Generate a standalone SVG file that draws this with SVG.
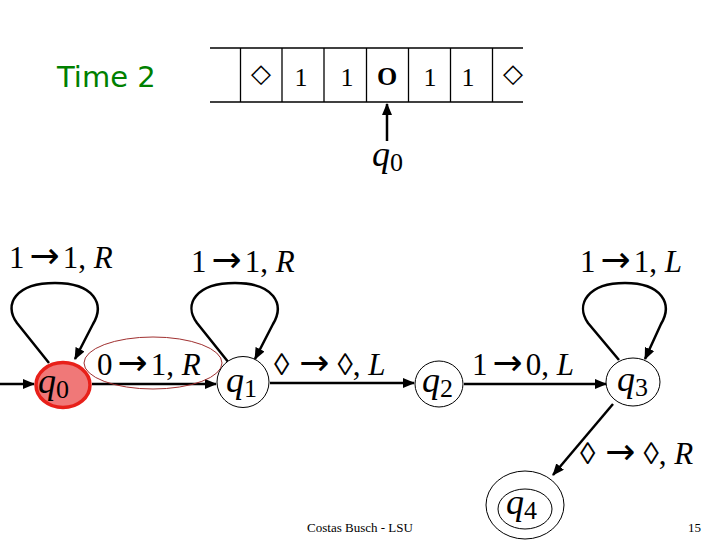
<svg xmlns="http://www.w3.org/2000/svg" width="720" height="540" viewBox="0 0 720 540">
<style>
.t{font-family:"Liberation Serif","DejaVu Serif",serif;fill:#000}
.lbl{font-size:31px}
.i{font-style:italic}
.ar{font-family:"DejaVu Sans",sans-serif;font-size:36px}
.e{fill:none;stroke:#000;stroke-width:2.5}
.st{fill:#fff;stroke:#000;stroke-width:1}
.tape{stroke:#000;stroke-width:1.3;fill:none}
.cell{font-size:26px;text-anchor:middle}
.q{font-size:36px}
.sub{font-size:26px}
</style>
<defs>
<marker id="ah" viewBox="0 0 12 10" refX="11" refY="5" markerWidth="12" markerHeight="10" markerUnits="userSpaceOnUse" orient="auto">
<path d="M0,0 L12,5 L0,10 z" fill="#000"/>
</marker>
</defs>
<rect width="720" height="540" fill="#fff"/>
<text x="57" y="87" font-family="Verdana,'DejaVu Sans',sans-serif" font-size="29" fill="#008000">Time 2</text>
<g id="tape">
<line class="tape" x1="210" y1="48" x2="523" y2="48"/>
<line class="tape" x1="210" y1="102" x2="523" y2="102"/>
<line class="tape" x1="240.5" y1="48" x2="240.5" y2="102"/>
<line class="tape" x1="282" y1="48" x2="282" y2="102"/>
<line class="tape" x1="324" y1="48" x2="324" y2="102"/>
<line class="tape" x1="366.5" y1="48" x2="366.5" y2="102"/>
<line class="tape" x1="408.5" y1="48" x2="408.5" y2="102"/>
<line class="tape" x1="450.5" y1="48" x2="450.5" y2="102"/>
<line class="tape" x1="492.5" y1="48" x2="492.5" y2="102"/>
<text class="t cell" x="261" y="82" font-family="'DejaVu Sans',sans-serif" font-size="17">◇</text>
<text class="t cell" x="301" y="86">1</text>
<text class="t cell" x="347" y="86">1</text>
<text class="t cell" x="387" y="85" font-weight="bold">O</text>
<text class="t cell" x="430" y="86">1</text>
<text class="t cell" x="468" y="86">1</text>
<text class="t cell" x="513" y="82" font-family="'DejaVu Sans',sans-serif" font-size="17">◇</text>
<line class="e" x1="387" y1="141" x2="387" y2="104" marker-end="url(#ah)"/>
<text class="t q" x="372" y="166"><tspan class="i">q</tspan><tspan class="sub" dy="5">0</tspan></text>
</g>
<g id="connectors">
<line class="e" x1="0" y1="384" x2="34" y2="384" marker-end="url(#ah)"/>
<line class="e" x1="92" y1="384" x2="216" y2="384" marker-end="url(#ah)"/>
<line class="e" x1="270" y1="383" x2="414" y2="383" marker-end="url(#ah)"/>
<line class="e" x1="464" y1="384" x2="606" y2="384" marker-end="url(#ah)"/>
<line class="e" x1="613" y1="404" x2="553" y2="475" marker-end="url(#ah)"/>
<path class="e" d="M49,363 L17,323 C3,304 16,283 55,283 C94,283 105,304 93,324 L75,359" marker-end="url(#ah)"/>
<path class="e" d="M229,363 L197,323 C183,304 196,283 235,283 C274,283 285,304 273,324 L255,359" marker-end="url(#ah)"/>
<path class="e" d="M619,360 L588,323 C575,304 588,283 625,283 C662,283 673,304 661,324 L645,359" marker-end="url(#ah)"/>
</g>
<g id="labels">
<text class="t lbl" x="9" y="268">1<tspan class="ar" dx="5">→</tspan><tspan dx="3">1, </tspan><tspan class="i">R</tspan></text>
<text class="t lbl" x="191" y="272">1<tspan class="ar" dx="5">→</tspan><tspan dx="3">1, </tspan><tspan class="i">R</tspan></text>
<text class="t lbl" x="97" y="375">0<tspan class="ar" dx="5">→</tspan><tspan dx="3">1, </tspan><tspan class="i">R</tspan></text>
<text class="t lbl" x="274" y="375">◊<tspan class="ar" dx="10">→</tspan><tspan dx="8">◊, </tspan><tspan class="i">L</tspan></text>
<text class="t lbl" x="472" y="375">1<tspan class="ar" dx="5">→</tspan><tspan dx="3">0, </tspan><tspan class="i">L</tspan></text>
<text class="t lbl" x="580" y="272">1<tspan class="ar" dx="5">→</tspan><tspan dx="3">1, </tspan><tspan class="i">L</tspan></text>
<text class="t lbl" x="580" y="464">◊<tspan class="ar" dx="10">→</tspan><tspan dx="8">◊, </tspan><tspan class="i">R</tspan></text>
<ellipse cx="153" cy="363" rx="69" ry="26" fill="none" stroke="#a03030" stroke-width="1"/>
</g>
<g id="q0">
<ellipse cx="63" cy="385" rx="27" ry="22.5" fill="#f07878" stroke="#e8201a" stroke-width="3.5"/>
<text class="t q" x="38" y="393"><tspan class="i">q</tspan><tspan class="sub" dy="5">0</tspan></text>
</g>
<g id="q1">
<ellipse class="st" cx="243" cy="382" rx="26" ry="25.5"/>
<text class="t q" x="226" y="392"><tspan class="i">q</tspan><tspan class="sub" dy="5">1</tspan></text>
</g>
<g id="q2">
<ellipse class="st" cx="439" cy="384" rx="24" ry="23"/>
<text class="t q" x="422" y="392"><tspan class="i">q</tspan><tspan class="sub" dy="5">2</tspan></text>
</g>
<g id="q3">
<ellipse class="st" cx="633" cy="382" rx="27" ry="24"/>
<text class="t q" x="617" y="391"><tspan class="i">q</tspan><tspan class="sub" dy="5">3</tspan></text>
</g>
<g id="q4">
<ellipse class="st" cx="525" cy="505" rx="39" ry="34"/>
<ellipse class="st" cx="525" cy="509" rx="27" ry="20"/>
<text class="t q" x="506" y="514"><tspan class="i">q</tspan><tspan class="sub" dy="5">4</tspan></text>
</g>
<text class="t" x="360" y="532" font-size="13" text-anchor="middle">Costas Busch - LSU</text>
<text class="t" x="688" y="532" font-size="13">15</text>
</svg>
